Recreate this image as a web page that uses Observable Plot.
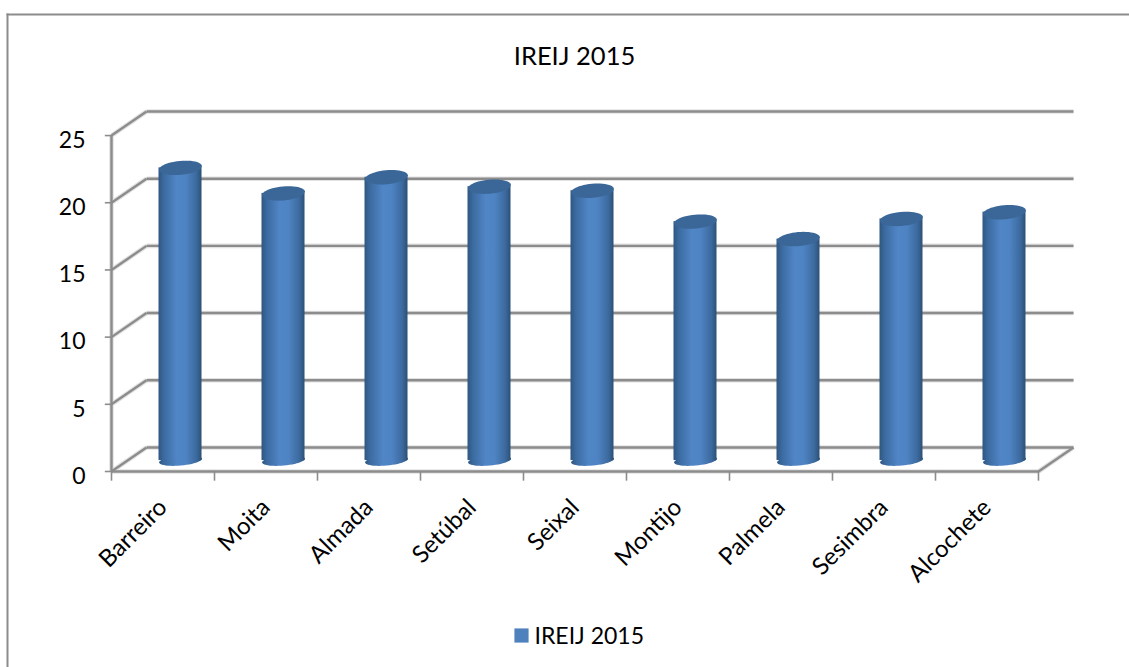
<!DOCTYPE html>
<html><head><meta charset="utf-8">
<script src="https://cdn.jsdelivr.net/npm/d3@7"></script>
<script src="https://cdn.jsdelivr.net/npm/@observablehq/plot@0.6"></script>
<style>html,body{margin:0;padding:0;background:#fff}svg{display:block}</style>
</head><body><div id="chart"></div>
<script>
const categories = ["Barreiro","Moita","Almada","Setúbal","Seixal","Montijo","Palmela","Sesimbra","Alcochete"];
const values = [21.7,19.8,21.0,20.3,20.0,17.7,16.4,17.9,18.4];
const yTicks = [0,5,10,15,20,25];
const xTicks = [0,1,2,3,4,5,6,7,8,9];
const chartTitle = "IREIJ 2015";
const seriesName = "IREIJ 2015";

// depth of the 3D box, in data units
const depthX = 0.34, depthY = 1.79;
const rows = categories.map((name,i)=>({name,i,value:values[i],
  cx:i+0.5+depthX/2, base:depthY/2-0.08, top:values[i]+depthY/2}));

const ell = (rx,ry,rot)=>({draw(c){
  const n=48, cr=Math.cos(rot), sr=Math.sin(rot);
  for(let k=0;k<n;k++){
    const a=2*Math.PI*k/n, ex=rx*Math.cos(a), ey=ry*Math.sin(a);
    const px=ex*cr-ey*sr, py=ex*sr+ey*cr;
    if(k===0) c.moveTo(px,py); else c.lineTo(px,py);
  }
  c.closePath();
}});
const topCap = ell(21.5,7,-0.09), bottomCap = ell(21.5,5,-0.09);

const defs = () => {
  const s = d3.create("svg:defs");
  const g = s.append("linearGradient").attr("id","cyl");
  [[0,"#2f5680"],[0.12,"#3b6a9f"],[0.42,"#5085c6"],[0.62,"#4f84c4"],[0.88,"#3c6a9e"],[1,"#2c5076"]]
    .forEach(([o,c])=>g.append("stop").attr("offset",o).attr("stop-color",c));
  const t = d3.create("svg:g");
  t.node().append(s.node());
  return t.node();
};

const grey = "#8c8c8c", halo = "#e2e2e2", gw = 2.4, hw = 4.6;
const font = "Lato, Carlito, sans-serif";

const wall = (stroke, strokeWidth) => [
  Plot.link(yTicks,{x1:depthX,x2:9+depthX,y1:d=>d+depthY,y2:d=>d+depthY,stroke,strokeWidth}),
  Plot.link(yTicks,{x1:0,x2:depthX,y1:d=>d,y2:d=>d+depthY,stroke,strokeWidth}),
  Plot.link([0],{x1:0,x2:9,y1:0,y2:0,stroke,strokeWidth}),
  Plot.link([0],{x1:9,x2:9+depthX,y1:0,y2:depthY,stroke,strokeWidth}),
  Plot.ruleX([0],{y1:0,y2:25,stroke,strokeWidth})
];

const plot = Plot.plot({
  width:1129, height:667, margin:0,
  style:{background:"#fff", fontFamily:font},
  x:{type:"linear", domain:[0,9+depthX], range:[111,1073], axis:null},
  y:{type:"linear", domain:[0,25+depthY], range:[471,111], axis:null},
  marks:[
    defs,
    Plot.frame({anchor:"top", insetTop:14, insetLeft:7, stroke:grey, strokeWidth:2}),
    Plot.frame({anchor:"left", insetLeft:7, insetTop:14, stroke:grey, strokeWidth:2}),
    wall(halo,hw),
    wall(grey,gw),
    Plot.ruleX(xTicks,{x:d=>d,y1:0,y2:-0.72,stroke:grey,strokeWidth:1.6}),
    Plot.ruleY(yTicks,{y:d=>d,x1:-0.06,x2:0,stroke:grey,strokeWidth:1.6}),
    // cylinders
    Plot.dot(rows,{x:"cx",y:"base",symbol:()=>bottomCap,r:5,fill:"url(#cyl)",stroke:"none"}),
    Plot.rect(rows,{x1:d=>d.cx,x2:d=>d.cx,y1:"base",y2:"top",fill:"url(#cyl)",insetLeft:-21.5,insetRight:-21.5}),
    Plot.dot(rows,{x:"cx",y:"top",symbol:()=>topCap,r:5,fill:"#3b6798",stroke:"none"}),
    // labels
    Plot.text(yTicks,{x:0,y:d=>d,text:d=>String(d),dx:-26,dy:5,textAnchor:"end",fontSize:23,fill:"#000"}),
    Plot.text(rows,{x:d=>d.i+0.5,y:0,text:"name",rotate:-45,textAnchor:"end",dx:0,dy:32,fontSize:24,fill:"#000"}),
    Plot.text([chartTitle],{frameAnchor:"top-left",dx:574,dy:56,text:d=>d,textAnchor:"middle",lineAnchor:"middle",fontSize:25.5,fill:"#000"}),
    Plot.dot([seriesName],{frameAnchor:"top-left",dx:521,dy:635,symbol:"square",r:8,fill:"#4f81bd"}),
    Plot.text([seriesName],{frameAnchor:"top-left",dx:534,dy:636,text:d=>d,textAnchor:"start",lineAnchor:"middle",fontSize:23,fill:"#000"})
  ]
});
document.getElementById("chart").append(plot);
</script></body></html>
